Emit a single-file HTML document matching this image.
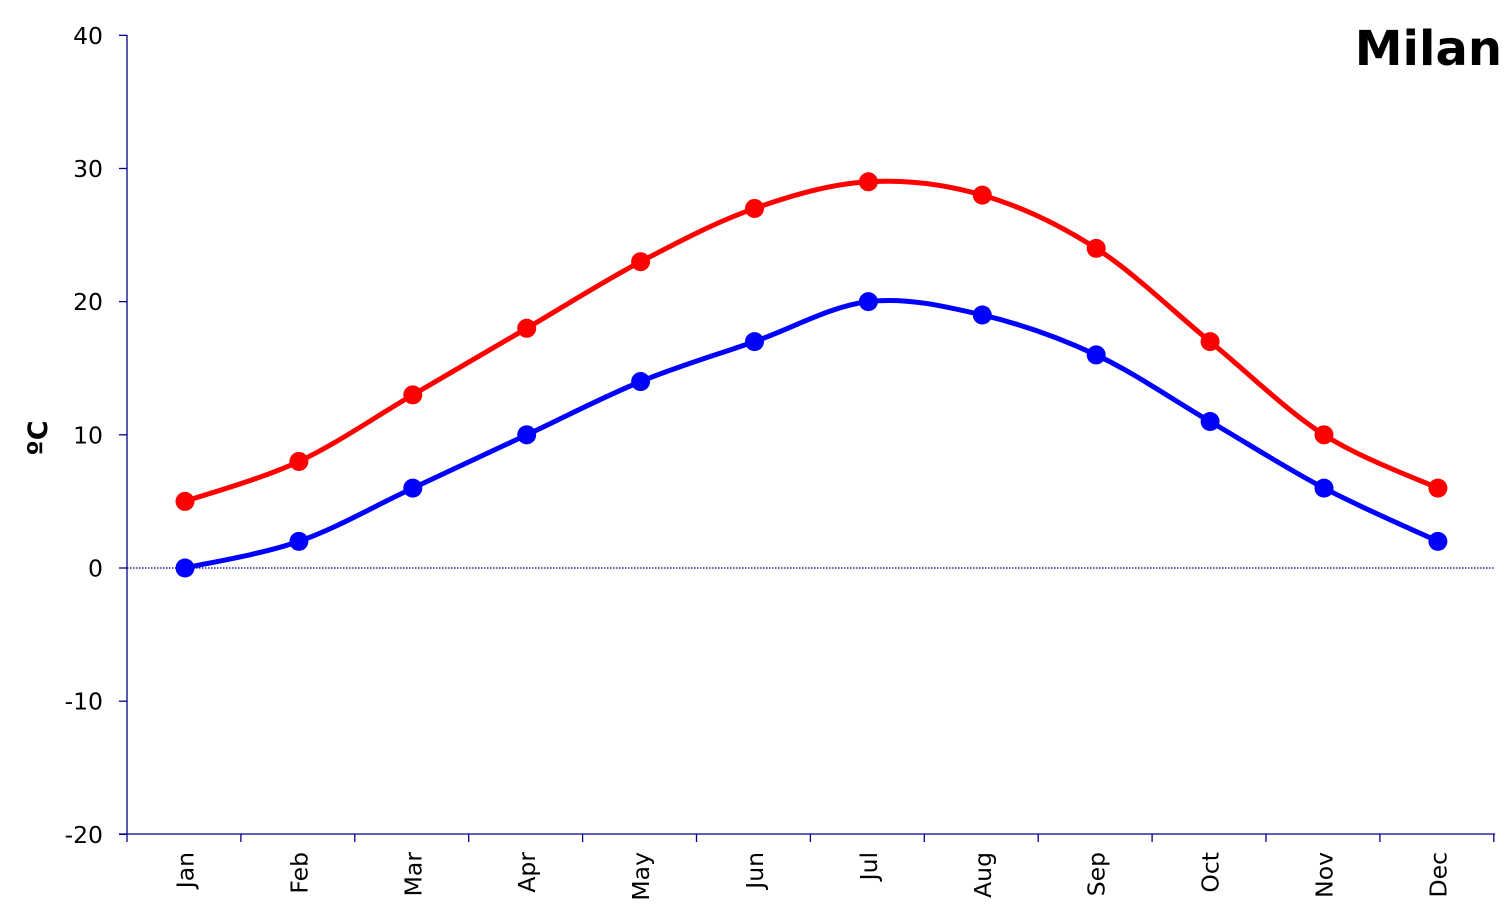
<!DOCTYPE html>
<html><head><meta charset="utf-8"><style>
html,body{margin:0;padding:0;background:#fff;}
svg{display:block;font-family:"DejaVu Sans","Liberation Sans",sans-serif;}
</style></head><body>
<svg id="c" width="1510" height="921" xmlns="http://www.w3.org/2000/svg">
<text x="1502" y="65" text-anchor="end" font-size="48" font-weight="bold">Milan</text>
<text transform="translate(47,438) rotate(-90)" text-anchor="middle" font-size="27" font-weight="bold">ºC</text>
<g id="g"></g>
</svg>
<script>
var g=document.getElementById('g'),s='';
function X(i){return 185+i*113.9;}
function Y(v){return 568-v*13.317;}
var ax='#00008b';
s+='<line x1="127" y1="35" x2="127" y2="834" stroke="'+ax+'" stroke-width="1.3"/>';
s+='<line x1="119" y1="834" x2="1495" y2="834" stroke="'+ax+'" stroke-width="1.3"/>';
s+='<line x1="127" y1="568" x2="1495" y2="568" stroke="'+ax+'" stroke-width="1.3" stroke-dasharray="1.5,1.5"/>';
for(var v=-20;v<=40;v+=10){var y=Y(v);
s+='<line x1="119" y1="'+y+'" x2="127" y2="'+y+'" stroke="'+ax+'" stroke-width="1.3"/>';
s+='<text x="103" y="'+(y+8.5)+'" text-anchor="end" font-size="23.5">'+v+'</text>';}
var m=['Jan','Feb','Mar','Apr','May','Jun','Jul','Aug','Sep','Oct','Nov','Dec'];
for(var i=0;i<=12;i++){var x=127+i*113.9;
s+='<line x1="'+x+'" y1="834" x2="'+x+'" y2="842" stroke="'+ax+'" stroke-width="1.3"/>';}
for(var i=0;i<12;i++){s+='<text transform="translate('+(X(i)+8.5)+',852) rotate(-90)" text-anchor="end" font-size="23.5">'+m[i]+'</text>';}
function path(d,c){var p=d.map(function(v,i){return [X(i),Y(v)];});
var str='M'+p[0][0]+','+p[0][1];
for(var i=0;i<p.length-1;i++){var p0=p[i-1]||p[i],p1=p[i],p2=p[i+1],p3=p[i+2]||p[i+1];
var c1=[p1[0]+(p2[0]-p0[0])/6,p1[1]+(p2[1]-p0[1])/6],c2=[p2[0]-(p3[0]-p1[0])/6,p2[1]-(p3[1]-p1[1])/6];
str+=' C'+c1+' '+c2+' '+p2;}
var o='<path d="'+str+'" fill="none" stroke="'+c+'" stroke-width="5"/>';
p.forEach(function(q){o+='<circle cx="'+q[0]+'" cy="'+q[1]+'" r="9.5" fill="'+c+'"/>';});return o;}
s+=path([5,8,13,18,23,27,29,28,24,17,10,6],'#ff0000');
s+=path([0,2,6,10,14,17,20,19,16,11,6,2],'#0000ff');
g.innerHTML=s;
</script>
</body></html>
